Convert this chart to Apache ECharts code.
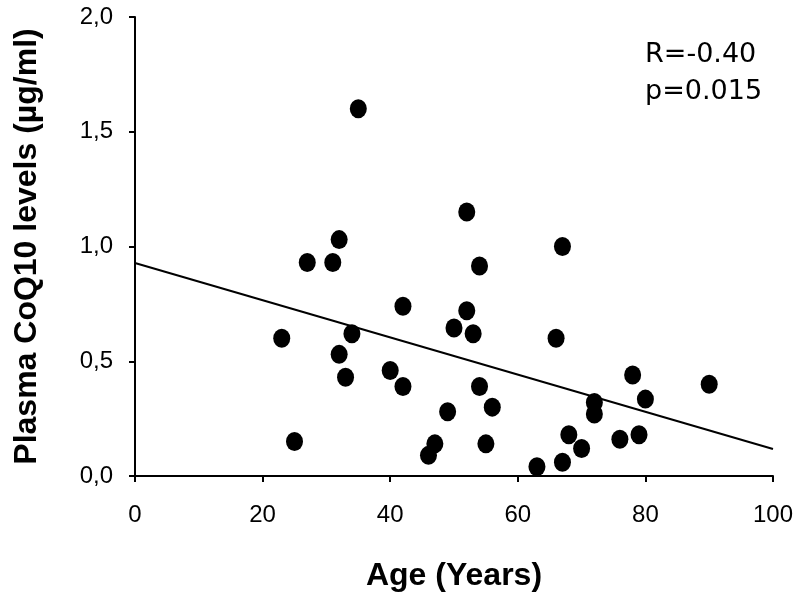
<!DOCTYPE html>
<html><head><meta charset="utf-8">
<script src="https://cdn.jsdelivr.net/npm/echarts@6/dist/echarts.min.js"></script>
<style>html,body{margin:0;padding:0;background:#fff}#c{width:800px;height:599px}</style>
</head><body><div id="c"></div>
<script>
var ages = [23,25,27,31,32,32,33,34,35,40,42,42,46,47,49,50,52,52,53,54,54,55,56,63,66,67,67,68,70,72,72,76,78,79,80,90];
var coq10 = [0.60,0.15,0.93,0.93,1.03,0.53,0.43,0.62,1.60,0.46,0.74,0.39,0.09,0.14,0.28,0.645,1.15,0.72,0.62,0.915,0.39,0.14,0.30,0.04,0.60,1.00,0.06,0.18,0.12,0.32,0.27,0.16,0.44,0.18,0.335,0.40];
var fitX = [0, 100];
var fitY = [0.928, 0.118];
var xTicks = [0,20,40,60,80,100];
var yTicks = ['0,0','0,5','1,0','1,5','2,0'];
var statsText = ['R=-0.40','p=0.015'];

var font = '"Liberation Sans", Arial, sans-serif';
var chart = echarts.init(document.getElementById('c'));
chart.setOption({
  backgroundColor:'#fff',
  animation:false,
  grid:{left:135,right:27,top:17,bottom:123},
  xAxis:{type:'value',min:0,max:100,interval:20,
    name:'Age (Years)',nameLocation:'middle',nameGap:84,
    nameTextStyle:{fontFamily:font,fontWeight:'bold',fontSize:32,color:'#000'},
    axisLine:{lineStyle:{color:'#000',width:2}},
    axisTick:{show:true,inside:false,length:6,lineStyle:{color:'#000',width:2}},
    axisLabel:{color:'#000',fontSize:24,fontFamily:font,margin:27,
      formatter:function(v){return String(xTicks[Math.round(v/20)]);}},
    splitLine:{show:false}},
  yAxis:{type:'value',min:0,max:2,interval:0.5,
    name:'Plasma CoQ10 levels (\u00b5g/ml)',nameLocation:'middle',nameGap:92,nameRotate:90,
    nameTextStyle:{fontFamily:font,fontWeight:'bold',fontSize:32,color:'#000'},
    axisLine:{show:true,lineStyle:{color:'#000',width:2}},
    axisTick:{show:true,inside:false,length:6,lineStyle:{color:'#000',width:2}},
    axisLabel:{color:'#000',fontSize:24,fontFamily:font,margin:22,
      formatter:function(v){return yTicks[Math.round(v/0.5)];}},
    splitLine:{show:false}},
  series:[
    {type:'line',data:fitX.map(function(x,i){return [x,fitY[i]];}),symbol:'none',
      lineStyle:{color:'#000',width:2},z:1},
    {type:'scatter',data:ages.map(function(a,i){return [a,coq10[i]];}),
      symbol:'circle',symbolSize:[17,19],itemStyle:{color:'#000',opacity:1},z:2}
  ],
  graphic:[
    {type:'text',left:645,top:41,style:{text:statsText[0],fontSize:27,fontFamily:'"DejaVu Sans", sans-serif',fill:'#000'}},
    {type:'text',left:645,top:78,style:{text:statsText[1],fontSize:27,fontFamily:'"DejaVu Sans", sans-serif',fill:'#000'}}
  ]
});
</script></body></html>
